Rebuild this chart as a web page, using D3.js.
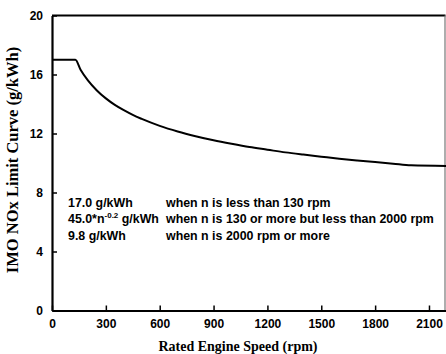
<!DOCTYPE html>
<html>
<head>
<meta charset="utf-8">
<script src="https://cdn.jsdelivr.net/npm/d3@7"></script>
<style>
  body { margin: 0; background: #fff; }
  svg { display: block; }
  .tick text { font-family: Arial, "Liberation Sans", sans-serif; font-weight: bold; font-size: 12px; fill: #000; }
</style>
</head>
<body>
<svg id="chart" width="446" height="354"></svg>
<script>
// engine speed (rpm) and limit (g/kWh)
const speeds = [0, 130, 160, 200, 250, 300, 350, 400, 450, 500, 600, 700, 800, 900, 1000, 1100, 1200, 1300, 1400, 1500, 1600, 1700, 1800, 1900, 2000, 2200];
const limits = [17.0, 17.0, 16.31, 15.60, 14.92, 14.38, 13.94, 13.58, 13.26, 12.99, 12.52, 12.14, 11.82, 11.54, 11.30, 11.08, 10.90, 10.72, 10.57, 10.43, 10.29, 10.17, 10.06, 9.95, 9.84, 9.80];
const xTicks = [0, 300, 600, 900, 1200, 1500, 1800, 2100];
const yTicks = [0, 4, 8, 12, 16, 20];
const notes = [
  ['17.0 g/kWh', 'when n is less than 130 rpm'],
  ['45.0*n', 'when n is 130 or more but less than 2000 rpm'],
  ['9.8 g/kWh', 'when n is 2000 rpm or more']
];

const MARGINS = { top: 15.5, bottom: 43.5, left: 52, right: 0.5 };
const svg = d3.select('#chart');
const width = 446 - MARGINS.left - MARGINS.right;
const height = 354 - MARGINS.top - MARGINS.bottom;

const x = d3.scaleLinear().domain([0, 2192]).range([MARGINS.left, MARGINS.left + width]);
const y = d3.scaleLinear().domain([0, 20]).range([MARGINS.top + height, MARGINS.top]);

// frame
svg.append('line').attr('x1', x(0)).attr('x2', x(2192)).attr('y1', y(20)).attr('y2', y(20))
  .attr('stroke', '#000').attr('stroke-width', 2);
svg.append('line').attr('x1', x(2192) - 0.5).attr('x2', x(2192) - 0.5).attr('y1', y(20)).attr('y2', y(0))
  .attr('stroke', '#777').attr('stroke-width', 1.2);

const axisX = svg.append('g').attr('transform', `translate(0,${y(0)})`)
  .call(d3.axisBottom(x).tickValues(xTicks).tickFormat(d3.format('d'))
    .tickSizeInner(-5).tickSizeOuter(0).tickPadding(9));
axisX.select('.domain').attr('stroke-width', 2.2);
axisX.selectAll('.tick line').attr('stroke-width', 1.5);

const axisY = svg.append('g').attr('transform', `translate(${x(0)},0)`)
  .call(d3.axisLeft(y).tickValues(yTicks).tickSizeInner(-5).tickSizeOuter(0).tickPadding(9));
axisY.select('.domain').attr('stroke-width', 2.2);
axisY.selectAll('.tick line').attr('stroke-width', 1.5);

// limit curve
const line = d3.line().x((d, i) => x(speeds[i])).y(d => y(d)).curve(d3.curveMonotoneX);
svg.append('path').datum(limits).attr('d', line)
  .attr('fill', 'none').attr('stroke', '#000').attr('stroke-width', 2);

// notes
const noteY = [207, 223, 240];
const g = svg.append('g').attr('font-family', 'Arial, "Liberation Sans", sans-serif')
  .attr('font-weight', 'bold').attr('font-size', 12.4);
notes.forEach((n, i) => {
  const t = g.append('text').attr('x', 68).attr('y', noteY[i]);
  t.append('tspan').text(n[0]);
  if (i === 1) {
    t.append('tspan').attr('font-size', 8).attr('dy', -5).text('-0.2');
    t.append('tspan').attr('dy', 5).text(' g/kWh');
  }
  g.append('text').attr('x', 166).attr('y', noteY[i]).text(n[1]);
});

// titles
svg.append('text').attr('x', 238).attr('y', 351).attr('text-anchor', 'middle')
  .attr('font-family', '"Liberation Serif", "Times New Roman", serif').attr('font-weight', 'bold')
  .attr('font-size', 14).text('Rated Engine Speed (rpm)');
svg.append('text').attr('transform', 'translate(18,160) rotate(-90)').attr('text-anchor', 'middle')
  .attr('font-family', '"Liberation Serif", "Times New Roman", serif').attr('font-weight', 'bold')
  .attr('font-size', 16.5).text('IMO NOx Limit Curve (g/kWh)');
</script>
</body>
</html>
